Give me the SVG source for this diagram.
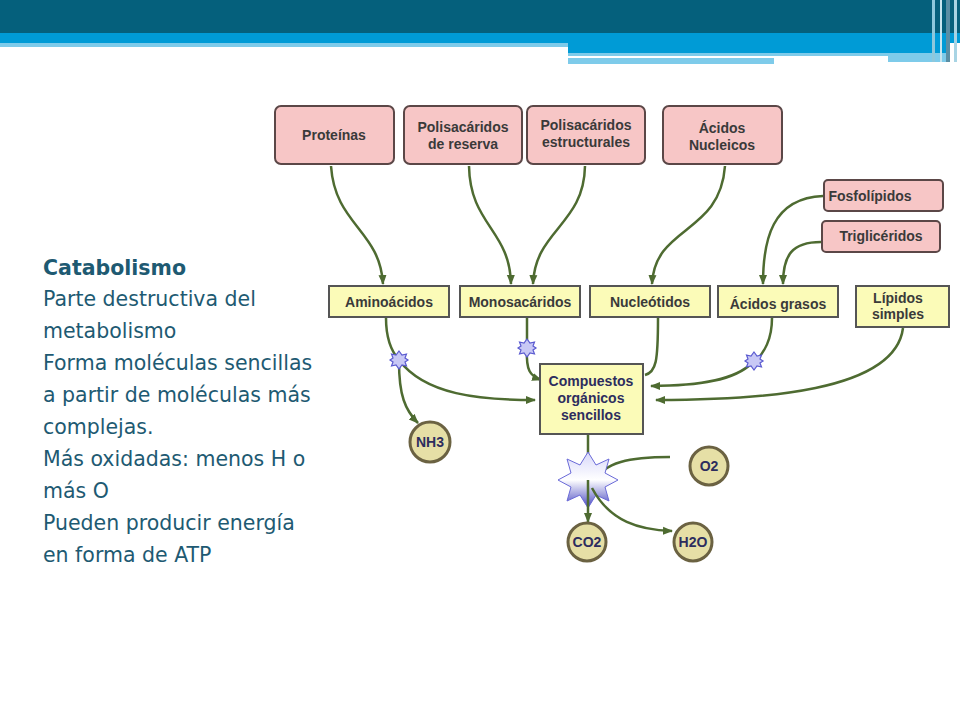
<svg xmlns="http://www.w3.org/2000/svg" width="960" height="720" viewBox="0 0 960 720">
<defs>
<style>
.pk{fill:#f7c6c6;stroke:#5b4747;stroke-width:2}
.yl{fill:#fbfbb8;stroke:#555;stroke-width:2}
.ci{fill:#e6dfa6;stroke:#6b6242;stroke-width:3}
.t{font-family:"Liberation Sans",Arial,sans-serif;font-weight:bold;font-size:14px;fill:#3a3a3a;text-anchor:middle}
.tb{font-family:"Liberation Sans",Arial,sans-serif;font-weight:bold;font-size:14px;fill:#2d2d5e;text-anchor:middle}
.c{fill:none;stroke:#4e6b31;stroke-width:2.5}
.a{marker-end:url(#ar)}
.side{font-family:"DejaVu Sans",sans-serif;font-size:20.5px;fill:#1e5a72}
.st{fill:#c8c8f5;stroke:#5a5ad0;stroke-width:1.2}
</style>
<marker id="ar" viewBox="0 0 10 10" refX="9" refY="5" markerWidth="4" markerHeight="4" orient="auto" markerUnits="strokeWidth"><path d="M0,1 L10,5 L0,9 z" fill="#4e6b31"/></marker>
<linearGradient id="sg" x1="0" y1="0" x2="0" y2="1"><stop offset="0" stop-color="#d8d8fa"/><stop offset="0.5" stop-color="#ffffff"/><stop offset="1" stop-color="#4848c0"/></linearGradient>
</defs>
<g id="header">
<rect x="0" y="0" width="960" height="33" fill="#05607c"/>
<rect x="0" y="33" width="960" height="10" fill="#009bd6"/>
<rect x="568" y="43" width="380" height="10" fill="#009bd6"/>
<rect x="0" y="43" width="568" height="4" fill="#7ecbea"/>
<rect x="568" y="53" width="380" height="3" fill="#7ecbea"/>
<rect x="568" y="56" width="320" height="2" fill="#ffffff"/>
<rect x="888" y="56" width="60" height="6" fill="#7ecbea"/>
<rect x="568" y="58" width="206" height="6" fill="#7ecbea"/>
<rect x="932" y="0" width="3" height="62" fill="#8ec8dc"/>
<rect x="940" y="0" width="2" height="62" fill="#c8e6f0"/>
<rect x="946" y="0" width="4" height="62" fill="#5a8ea4"/>
<rect x="954" y="0" width="3" height="62" fill="#a8d4e4"/>
</g>
<g id="sidetext" class="side">
<text x="43" y="275" font-weight="bold">Catabolismo</text>
<text x="43" y="306">Parte destructiva del</text>
<text x="43" y="338">metabolismo</text>
<text x="43" y="370">Forma moléculas sencillas</text>
<text x="43" y="402">a partir de moléculas más</text>
<text x="43" y="434">complejas.</text>
<text x="43" y="466">Más oxidadas: menos H o</text>
<text x="43" y="498">más O</text>
<text x="43" y="530">Pueden producir energía</text>
<text x="43" y="562">en forma de ATP</text>
</g>
<g id="connectors">
<path class="c a" d="M331,166 C335,225 380,230 383,284"/>
<path class="c a" d="M469,166 C470,225 510,230 511,284"/>
<path class="c a" d="M585,166 C584,225 535,230 533,284"/>
<path class="c a" d="M725,166 C720,235 655,225 652,284"/>
<path class="c a" d="M823,196 C772,198 763,240 763,284"/>
<path class="c a" d="M821,242 C792,242 783,255 783,284"/>
<path class="c" d="M386,318 C386,340 392,352 399,360"/>
<path class="c a" d="M399,360 C425,395 480,400 535,400"/>
<path class="c a" d="M399,362 C399,395 405,410 418,423"/>
<path class="c" d="M527,318 L527,346"/>
<path class="c a" d="M527,350 C526,370 530,376 541,380"/>
<path class="c" d="M658,318 C658,362 656,372 645,375"/>
<path class="c" d="M772,318 C772,340 764,352 756,361"/>
<path class="c a" d="M752,363 C735,380 700,386 651,386"/>
<path class="c a" d="M903,328 C895,392 760,400 656,400"/>
<path class="c" d="M588,435 L588,470"/>
<path class="c" d="M670,457 C630,457 604,462 594,482"/>
</g>
<g id="bigstar"><polygon points="588,452 596,465 609,459 605,473 618,480 605,487 609,501 596,495 588,508 580,495 567,501 571,487 558,480 571,473 567,459 580,465" fill="url(#sg)" stroke="#6a6ad8" stroke-width="1"/></g>
<g id="connectors2">
<path class="c a" d="M588,480 L588,522"/>
<path class="c a" d="M592,488 C610,522 640,530 672,531"/>
</g>
<g id="stars">
<polygon class="st" transform="translate(399,360)" points="0,-9 3,-5 7.5,-6 6,-2 9,0 6,2 7.5,6 3,5 0,9 -3,5 -7.5,6 -6,2 -9,0 -6,-2 -7.5,-6 -3,-5"/>
<polygon class="st" transform="translate(527,348)" points="0,-9 3,-5 7.5,-6 6,-2 9,0 6,2 7.5,6 3,5 0,9 -3,5 -7.5,6 -6,2 -9,0 -6,-2 -7.5,-6 -3,-5"/>
<polygon class="st" transform="translate(754,361)" points="0,-9 3,-5 7.5,-6 6,-2 9,0 6,2 7.5,6 3,5 0,9 -3,5 -7.5,6 -6,2 -9,0 -6,-2 -7.5,-6 -3,-5"/>
</g>
<g id="proteinas"><rect class="pk" x="275" y="106" width="119" height="58" rx="6"/><text class="t" x="334" y="140">Proteínas</text></g>
<g id="polres"><rect class="pk" x="404" y="106" width="118" height="58" rx="6"/><text class="t" x="463" y="132">Polisacáridos</text><text class="t" x="463" y="149">de reserva</text></g>
<g id="polest"><rect class="pk" x="527" y="106" width="118" height="58" rx="6"/><text class="t" x="586" y="130">Polisacáridos</text><text class="t" x="586" y="147">estructurales</text></g>
<g id="acnuc"><rect class="pk" x="663" y="106" width="119" height="58" rx="6"/><text class="t" x="722" y="133">Ácidos</text><text class="t" x="722" y="150">Nucleicos</text></g>
<g id="fosfo"><rect class="pk" x="824" y="180" width="119" height="31" rx="4"/><text class="t" x="870" y="201">Fosfolípidos</text></g>
<g id="trigli"><rect class="pk" x="822" y="221" width="118" height="31" rx="4"/><text class="t" x="881" y="241">Triglicéridos</text></g>
<g id="amino"><rect class="yl" x="329" y="286" width="120" height="31"/><text class="t" x="389" y="307">Aminoácidos</text></g>
<g id="mono"><rect class="yl" x="460" y="286" width="120" height="31"/><text class="t" x="520" y="307">Monosacáridos</text></g>
<g id="nucleo"><rect class="yl" x="590" y="286" width="120" height="31"/><text class="t" x="650" y="307">Nucleótidos</text></g>
<g id="acgras"><rect class="yl" x="718" y="286" width="120" height="31"/><text class="t" x="778" y="309">Ácidos grasos</text></g>
<g id="lipsim"><rect class="yl" x="856" y="286" width="93" height="41"/><text class="t" x="898" y="303">Lípidos</text><text class="t" x="898" y="319">simples</text></g>
<g id="compuestos"><rect class="yl" x="540" y="364" width="103" height="70"/><text class="tb" x="591" y="386">Compuestos</text><text class="tb" x="591" y="403">orgánicos</text><text class="tb" x="591" y="420">sencillos</text></g>
<g id="nh3"><circle class="ci" cx="430" cy="442" r="20"/><text class="tb" x="430" y="447">NH3</text></g>
<g id="o2"><circle class="ci" cx="709" cy="466" r="19"/><text class="tb" x="709" y="471">O2</text></g>
<g id="co2"><circle class="ci" cx="587" cy="542" r="19"/><text class="tb" x="587" y="547">CO2</text></g>
<g id="h2o"><circle class="ci" cx="693" cy="542" r="19"/><text class="tb" x="693" y="547">H2O</text></g>
</svg>
